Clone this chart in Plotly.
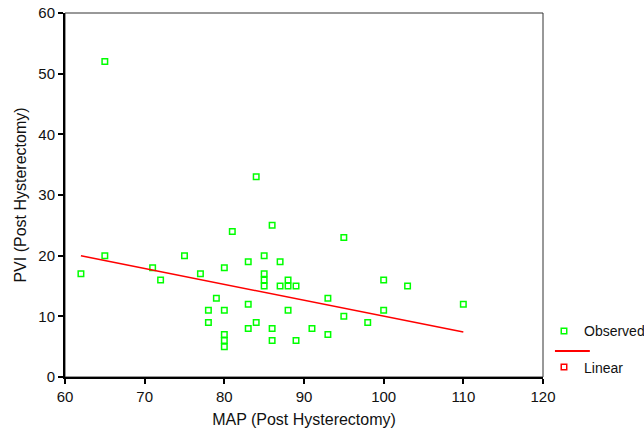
import plotly.graph_objects as go

# Observed data (MAP vs PVI, post hysterectomy)
map_vals = [62, 65, 65, 71, 72, 75, 77, 78, 78, 79,
            80, 80, 80, 80, 80, 81, 83, 83, 83, 84,
            84, 85, 85, 85, 85, 86, 86, 86, 87, 87,
            88, 88, 88, 89, 89, 91, 93, 93, 95, 95,
            98, 100, 100, 103, 110]
pvi_vals = [17, 52, 20, 18, 16, 20, 17, 11, 9, 13,
            18, 11, 7, 6, 5, 24, 19, 12, 8, 33,
            9, 20, 17, 16, 15, 25, 8, 6, 19, 15,
            16, 15, 11, 15, 6, 8, 13, 7, 23, 10,
            9, 16, 11, 15, 12]

# Linear fit line as drawn
fit_x = [62, 110]
fit_y = [20.0, 7.4]

x_ticks = [60, 70, 80, 90, 100, 110, 120]
y_ticks = [0, 10, 20, 30, 40, 50, 60]

FONT = "Liberation Sans, Arial, sans-serif"
GREEN = "#00ff00"
RED = "#ff0000"

fig = go.Figure()
fig.add_trace(go.Scatter(
    x=map_vals, y=pvi_vals, mode="markers", name="Observed",
    legendgroup="obs",
    marker=dict(symbol="square-open", size=5.5, color=GREEN,
                line=dict(width=1.5, color=GREEN)),
    cliponaxis=False,
))
fig.add_trace(go.Scatter(
    x=fit_x, y=fit_y, mode="lines", name="Linear fit",
    showlegend=False,
    line=dict(color=RED, width=1.5),
))
fig.add_trace(go.Scatter(
    x=[None], y=[None], mode="markers", name="Linear",
    legendgroup="lin",
    marker=dict(symbol="square-open", size=5.5, color=RED,
                line=dict(width=1.5, color=RED)),
))

fig.update_layout(
    width=644, height=428,
    margin=dict(l=65, r=101, t=13, b=51),
    paper_bgcolor="white", plot_bgcolor="white",
    font=dict(family=FONT, size=15, color="#111"),
    showlegend=True,
    legend=dict(xref="container", yref="container",
                x=0.8447, xanchor="left", y=0.2633, yanchor="top",
                font=dict(size=14, color="#111"),
                bgcolor="rgba(0,0,0,0)", tracegroupgap=15,
                itemwidth=30, traceorder="grouped"),
    xaxis=dict(range=[60, 120], tickvals=x_ticks, ticks="outside",
               ticklen=5, tickwidth=2, tickcolor="black",
               showline=True, linewidth=2, linecolor="black",
               showgrid=False, zeroline=False, automargin=False,
               title=dict(text="MAP (Post Hysterectomy)",
                          font=dict(size=16, color="#111"), standoff=10)),
    yaxis=dict(range=[0, 60], tickvals=y_ticks, ticks="outside",
               ticklen=5, tickwidth=2, tickcolor="black",
               showline=True, linewidth=2, linecolor="black",
               showgrid=False, zeroline=False, automargin=False,
               title=dict(text="PVI (Post Hysterectomy)",
                          font=dict(size=16, color="#111"), standoff=8)),
    shapes=[
        dict(type="rect", xref="paper", yref="paper",
             x0=0, x1=1, y0=0, y1=1,
             line=dict(color="#333", width=1), layer="below"),
        # legend line sample for the Linear entry
        dict(type="line", xref="paper", yref="paper",
             x0=1.025, x1=1.098, y0=0.0714, y1=0.0714,
             line=dict(color=RED, width=2)),
    ],
)

fig.write_html("out.html",
               config={"displayModeBar": False},
               post_script="document.body.style.margin='0';")
